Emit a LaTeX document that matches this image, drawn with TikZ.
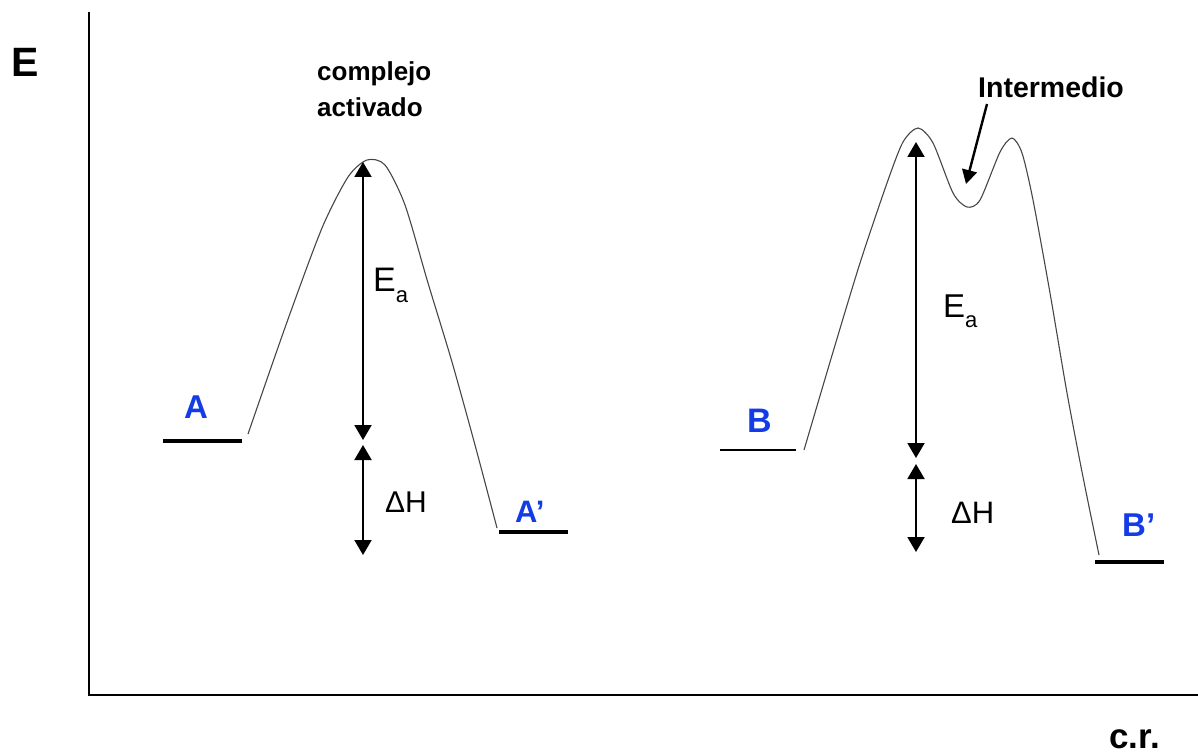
\documentclass[tikz,border=0pt]{standalone}
\usepackage{fontspec}
\setmainfont{Liberation Sans}
\usetikzlibrary{arrows.meta}
\definecolor{lblblue}{RGB}{20,60,230}
\definecolor{curvegray}{RGB}{70,70,70}
\newcommand{\fsz}[1]{\fontsize{#1}{#1}\selectfont}
\begin{document}
\begin{tikzpicture}[x=1pt,y=-1pt,
  axisline/.style={line width=2.6pt,black},
  level/.style={line width=4pt,black},
  thinlevel/.style={line width=2pt,black},
  curve/.style={line width=1.1pt,curvegray,line join=round},
  dbl/.style={line width=2pt,{Triangle[width=17pt,length=15pt]}-{Triangle[width=17pt,length=15pt]}},
  pointer/.style={line width=2.4pt,-{Triangle[width=15pt,length=14pt]}},
  lbl/.style={inner sep=0pt,anchor=base west,lblblue,font=\bfseries},
  txt/.style={inner sep=0pt,anchor=base west}]
\useasboundingbox (0,0) rectangle (1198,754);
% axes
\coordinate (o) at (89,695);
\coordinate (ytop) at (89,12);
\coordinate (xend) at (1198,695);
\draw[axisline] (ytop) -- (o) -- (xend);
\node[txt,font=\bfseries\fsz{41}] (E) at (11,77) {E};
\node[txt,font=\bfseries\fsz{35}] (cr) at (1109,748) {c.r.};
% left diagram
\coordinate (A1) at (163,441);
\coordinate (A2) at (242,441);
\coordinate (Ap1) at (499,532);
\coordinate (Ap2) at (568,532);
\draw[level] (A1) -- (A2);
\draw[level] (Ap1) -- (Ap2);
\draw[curve] plot[smooth,tension=0.45] coordinates {(248,434) (287,322) (322,228) (348,177) (367,160) (385,165) (405,205) (428,283) (452,362) (475,445) (497,528)};
\node[lbl,font=\bfseries\fsz{33}] (lA) at (184,418) {A};
\node[lbl,font=\bfseries\fsz{31}] (lAp) at (515,522) {A’};
\coordinate (eaAt) at (363,162);
\coordinate (eaAb) at (363,440);
\coordinate (dhAt) at (363,445);
\coordinate (dhAb) at (363,555);
\draw[dbl] (eaAt) -- (eaAb);
\draw[dbl] (dhAt) -- (dhAb);
\node[txt,font=\fsz{34}] (eaA) at (373,291) {E\raisebox{-11pt}{\fsz{22}a}};
\node[txt,font=\fsz{30}] (dhA) at (385,512) {ΔH};
\node[txt,font=\bfseries\fsz{26},align=left,anchor=north west] (ca) at (317,61) {complejo\\[10pt]activado};
% right diagram
\coordinate (B1) at (720,450);
\coordinate (B2) at (796,450);
\coordinate (Bp1) at (1095,562);
\coordinate (Bp2) at (1164,562);
\draw[thinlevel] (B1) -- (B2);
\draw[level] (Bp1) -- (Bp2);
\draw[curve] plot[smooth,tension=0.45] coordinates {(804,450) (833,352) (860,263) (887,183) (903,142) (918,128) (933,143) (953,193) (967,207) (980,200) (1000,152) (1012,138) (1022,153) (1033,200) (1050,293) (1067,393) (1083,477) (1099,555)};
\node[lbl,font=\bfseries\fsz{34}] (lB) at (747,432) {B};
\node[lbl,font=\bfseries\fsz{33}] (lBp) at (1122,536) {B’};
\coordinate (eaBt) at (916,142);
\coordinate (eaBb) at (916,458);
\coordinate (dhBt) at (916,464);
\coordinate (dhBb) at (916,552);
\draw[dbl] (eaBt) -- (eaBb);
\draw[dbl] (dhBt) -- (dhBb);
\node[txt,font=\fsz{33}] (eaB) at (943,317) {E\raisebox{-10pt}{\fsz{22}a}};
\node[txt,font=\fsz{31}] (dhB) at (951,523) {ΔH};
\node[txt,font=\bfseries\fsz{28.5}] (int) at (978,98) {Intermedio};
\coordinate (intTail) at (987,104);
\coordinate (intHead) at (966,184);
\draw[pointer] (intTail) -- (intHead);
\end{tikzpicture}
\end{document}
